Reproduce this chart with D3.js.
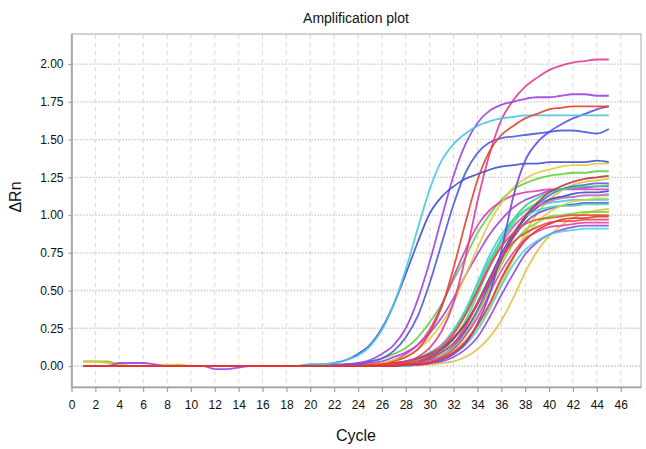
<!DOCTYPE html>
<html>
<head>
<meta charset="utf-8">
<script src="https://cdn.jsdelivr.net/npm/d3@7"></script>
<style>
    html, body { margin: 0; padding: 0; background: #ffffff; }
    svg { display: block; font-family: 'Liberation Sans', Arial, Helvetica, sans-serif; }
</style>
</head>
<body>
<svg id="chart" width="646" height="449"></svg>
<script>
'use strict';

// cycle numbers (x) and the axis tick labels
var cycles = [1,2,3,4,5,6,7,8,9,10, 11,12,13,14,15,16,17,18,19,20, 21,22,23,24,25,26,27,28,29,30, 31,32,33,34,35,36,37,38,39,40, 41,42,43,44,45];
var xTickValues = [0,2,4,6,8,10,12,14,16,18,20,22,24,26,28,30,32,34,36,38,40,42,44,46];
var yTickValues = [0,0.25,0.5,0.75,1,1.25,1.5,1.75,2];

// delta Rn per cycle, one array per well
var wellCyanEarly   = [0,0,0,0,0,0,0,0,0,0, 0,0,0,0,0,0,0,0,0,0.01, 0.01,0.02,0.04,0.07,0.13,0.24,0.41,0.64,0.91,1.17, 1.36,1.47,1.54,1.59,1.62,1.64,1.65,1.66,1.66,1.66, 1.66,1.66,1.66,1.66,1.66];
var wellBlueEarly   = [0,0,0,0,0,0,0,0,0,0, 0,0,0,0,0,0,0,0,0,0.01, 0.01,0.02,0.04,0.08,0.14,0.25,0.41,0.61,0.82,1.01, 1.12,1.19,1.24,1.27,1.30,1.32,1.33,1.34,1.34,1.35, 1.35,1.35,1.35,1.36,1.35];
var wellPurpleHigh  = [0,0,0,0.02,0.02,0.02,0.01,0,0,0, 0,-0.02,-0.02,-0.01,0,0,0,0,0,0, 0,0.01,0.01,0.02,0.04,0.08,0.14,0.25,0.44,0.69, 0.98,1.26,1.47,1.61,1.69,1.73,1.75,1.77,1.78,1.78, 1.79,1.80,1.80,1.79,1.79];
var wellBlueHigh    = [0,0,0,0,0,0,0,0,0,0, 0,0,0,0,0,0,0,0,0,0, 0,0,0.01,0.01,0.03,0.05,0.10,0.19,0.33,0.55, 0.81,1.07,1.28,1.41,1.48,1.51,1.52,1.53,1.54,1.55, 1.56,1.56,1.55,1.54,1.57];
var wellMagentaHigh = [0,0,0,0,0,0,0,0,0,0, 0,0,0,0,0,0,0,0,0,0, 0,0,0,0,0,0.01,0.01,0.03,0.06,0.12, 0.23,0.42,0.72,1.09,1.40,1.63,1.76,1.85,1.91,1.96, 1.99,2.01,2.02,2.03,2.03];
var wellRedHigh     = [0,0,0,0,0,0,0,0,0,0, 0,0,0,0,0,0,0,0,0,0, 0,0,0,0,0.01,0.01,0.03,0.06,0.11,0.22, 0.39,0.65,0.95,1.23,1.42,1.53,1.59,1.64,1.67,1.70, 1.71,1.72,1.72,1.72,1.72];
var wellVioletLate  = [0,0,0,0,0,0,0,0,0,0, 0,0,0,0,0,0,0,0,0,0, 0,0,0,0,0,0,0,0.01,0.01,0.02, 0.04,0.08,0.15,0.28,0.47,0.76,1.12,1.36,1.48,1.55, 1.60,1.64,1.67,1.70,1.72];
var wellYellowHigh  = [0,0,0,0,0,0,0,0.01,0,0, 0,0,0,0,0,0,0,0,0,0, 0,0,0,0.01,0.01,0.02,0.04,0.06,0.11,0.18, 0.28,0.42,0.60,0.78,0.95,1.08,1.18,1.24,1.28,1.30, 1.32,1.33,1.33,1.34,1.34];

var wellGreen1  = [0.03,0.03,0.03,0.01,0,0,0,0,0,0, 0,0,0,0,0,0,0,0,0,0, 0,0,0.01,0.02,0.03,0.05,0.08,0.12,0.19,0.29, 0.41,0.57,0.72,0.88,1.00,1.10,1.17,1.21,1.24,1.26, 1.27,1.28,1.28,1.29,1.29];
var wellPurple1 = [0,0,0,0,0,0,0,0,0,0, 0,0,0,0,0,0,0,0,0,0, 0,0,0.01,0.01,0.02,0.03,0.06,0.09,0.14,0.22, 0.32,0.45,0.60,0.74,0.87,0.97,1.05,1.10,1.13,1.16, 1.17,1.18,1.18,1.19,1.19];
var wellMagenta1 = [0,0,0,0,0,0,0,0,0,0, 0,0,0,0,0,0,0,0,0,0, 0,0,0,0.01,0.01,0.02,0.04,0.08,0.14,0.24, 0.40,0.59,0.77,0.93,1.03,1.09,1.13,1.15,1.16,1.17, 1.17,1.17,1.17,1.17,1.17];
var wellYellow1 = [0.03,0.03,0.02,0.01,0,0,0,0,0.01,0, 0,0,0,0,0,0,0,0,0,0, 0,0,0,0,0,0,0,0.01,0.02,0.03, 0.05,0.09,0.15,0.24,0.37,0.54,0.71,0.88,1.01,1.10, 1.16,1.20,1.22,1.23,1.24];
var wellBrown1  = [0,0,0,0,0,0,0,0,0,0, 0,0,0,0,0,0,0,0,0,0, 0,0,0,0,0,0.01,0.02,0.03,0.05,0.08, 0.12,0.19,0.28,0.41,0.56,0.71,0.86,0.99,1.08,1.15, 1.19,1.22,1.24,1.25,1.26];
var wellCyan1   = [0,0,0,0,0,0,0,0,0,0, 0,0,0,0,0,0,0,0,0,0, 0,0,0,0,0,0.01,0.01,0.02,0.04,0.07, 0.13,0.23,0.37,0.55,0.73,0.87,0.97,1.03,1.06,1.08, 1.09,1.10,1.10,1.10,1.10];
var wellGreen2  = [0,0,0,0,0,0,0,0,0,0, 0,0,0,0,0,0,0,0,0,0, 0,0,0,0,0,0,0.01,0.01,0.03,0.05, 0.10,0.18,0.30,0.47,0.66,0.83,0.95,1.03,1.08,1.10, 1.12,1.12,1.13,1.13,1.13];
var wellBlue1   = [0,0,0,0,0,0,0,0,0,0, 0,0,0,0,0,0,0,0,0,0, 0,0,0,0,0,0,0.01,0.02,0.03,0.05, 0.09,0.15,0.24,0.36,0.52,0.70,0.86,0.98,1.07,1.13, 1.17,1.19,1.20,1.21,1.21];
var wellPurple2 = [0,0,0,0,0,0,0,0,0,0, 0,0,0,0,0,0,0,0,0,0, 0,0,0,0,0,0,0.01,0.01,0.02,0.04, 0.07,0.13,0.23,0.37,0.54,0.71,0.85,0.95,1.01,1.04, 1.06,1.07,1.08,1.08,1.08];
var wellYellow2 = [0,0,0,0,0,0,0,0,0,0, 0,0,0,0,0,0,0,0,0,0, 0,0,0,0,0,0,0,0,0.01,0.01, 0.02,0.03,0.06,0.11,0.19,0.30,0.45,0.62,0.76,0.86, 0.93,0.98,1.01,1.03,1.04];
var wellGreen3  = [0,0,0,0,0,0,0,0,0,0, 0,0,0,0,0,0,0,0,0,0, 0,0,0,0,0,0,0.01,0.01,0.02,0.03, 0.07,0.12,0.21,0.35,0.51,0.67,0.81,0.90,0.95,0.99, 1.00,1.01,1.02,1.02,1.02];
var wellPurple3 = [0,0,0,0,0,0,0,0,0,0, 0,0,0,0,0,0,0,0,0,0, 0,0,0,0,0,0,0,0,0.01,0.02, 0.03,0.06,0.11,0.19,0.32,0.47,0.61,0.74,0.82,0.87, 0.90,0.92,0.93,0.93,0.93];
var wellCyan2   = [0,0,0,0,0,0,0,0,0,0, 0,0,0,0,0,0,0,0,0,0, 0,0,0,0,0,0,0,0,0.01,0.02, 0.04,0.08,0.14,0.24,0.38,0.53,0.67,0.77,0.83,0.87, 0.89,0.90,0.91,0.91,0.91];
var wellGreen4  = [0,0,0,0,0,0,0,0,0,0, 0,0,0,0,0,0,0,0,0,0, 0,0,0,0,0,0.01,0.02,0.03,0.05,0.09, 0.14,0.23,0.36,0.51,0.69,0.84,0.97,1.06,1.11,1.15, 1.17,1.18,1.19,1.19,1.20];
var wellBlue2   = [0,0,0,0,0,0,0,0,0,0, 0,0,0,0,0,0,0,0,0,0, 0,0,0,0,0,0,0.01,0.02,0.04,0.06, 0.11,0.18,0.28,0.42,0.58,0.74,0.88,0.98,1.05,1.10, 1.12,1.14,1.15,1.15,1.16];
var wellTeal1   = [0,0,0,0,0,0,0,0,0,0, 0,0,0,0,0,0,0,0,0,0, 0,0,0,0,0,0.01,0.01,0.02,0.04,0.08, 0.14,0.24,0.37,0.54,0.70,0.83,0.93,0.99,1.03,1.05, 1.06,1.06,1.07,1.07,1.07];
var wellLime1   = [0,0,0,0,0,0,0,0,0,0, 0,0,0,0,0,0,0,0,0,0, 0,0,0,0,0,0,0,0.01,0.02,0.03, 0.06,0.10,0.17,0.27,0.40,0.56,0.72,0.85,0.95,1.02, 1.06,1.09,1.10,1.11,1.11];
var wellPink1   = [0,0,0,0,0,0,0,0,0,0, 0,0,0,0,0,0,0,0,0,0, 0,0,0,0,0,0.01,0.02,0.03,0.05,0.08, 0.14,0.22,0.34,0.49,0.65,0.80,0.92,1.00,1.06,1.09, 1.11,1.12,1.13,1.13,1.14];
var wellMagenta2 = [0,0,0,0,0,0,0,0,0,0, 0,0,0,0,0,0,0,0,0,0, 0,0,0,0,0,0,0,0.01,0.02,0.03, 0.06,0.11,0.20,0.32,0.48,0.63,0.75,0.84,0.89,0.92, 0.93,0.94,0.95,0.95,0.95];
var wellBrown2  = [0,0,0,0,0,0,0,0,0,0, 0,0,0,0,0,0,0,0,0,0, 0,0,0,0,0,0.01,0.01,0.02,0.03,0.07, 0.12,0.21,0.34,0.50,0.66,0.79,0.88,0.94,0.97,0.98, 0.99,1.00,1.00,1.00,1.00];
var wellRed1    = [0,0,0,0,0,0,0,0,0,0, 0,0,0,0,0,0,0,0,0,0, 0,0,0,0,0,0,0,0.01,0.01,0.02, 0.05,0.09,0.16,0.27,0.41,0.58,0.72,0.83,0.90,0.94, 0.97,0.98,0.98,0.99,0.99];
var wellRed2    = [0,0,0,0,0,0,0,0,0,0, 0,0,0,0,0,0,0,0,0,0, 0,0,0,0,0,0,0.01,0.01,0.02,0.05, 0.09,0.15,0.26,0.41,0.56,0.71,0.82,0.88,0.92,0.95, 0.96,0.96,0.97,0.97,0.97];

// drawing order, reds last so the baseline reads red like the original
var wellNames = [
    'green1', 'purple1', 'magenta1', 'yellow1', 'cyan1', 'green2', 'blue1', 'purple2',
    'yellow2', 'green3', 'purple3', 'cyan2', 'green4', 'blue2', 'teal1', 'lime1', 'pink1',
    'magenta2', 'brown1', 'yellowHigh', 'violetLate', 'blueHigh', 'magentaHigh', 'purpleHigh',
    'blueEarly', 'cyanEarly', 'brown2', 'redHigh', 'red2', 'red1'
];

var wellValues = {
    cyanEarly: wellCyanEarly, blueEarly: wellBlueEarly, purpleHigh: wellPurpleHigh,
    blueHigh: wellBlueHigh, magentaHigh: wellMagentaHigh, redHigh: wellRedHigh,
    violetLate: wellVioletLate, yellowHigh: wellYellowHigh,
    green1: wellGreen1, purple1: wellPurple1, magenta1: wellMagenta1, yellow1: wellYellow1,
    brown1: wellBrown1, cyan1: wellCyan1, green2: wellGreen2, blue1: wellBlue1,
    purple2: wellPurple2, yellow2: wellYellow2, green3: wellGreen3, purple3: wellPurple3,
    cyan2: wellCyan2, green4: wellGreen4, blue2: wellBlue2, teal1: wellTeal1,
    lime1: wellLime1, pink1: wellPink1, magenta2: wellMagenta2, brown2: wellBrown2,
    red1: wellRed1, red2: wellRed2
};

var wellColors = {
    cyanEarly: '#46c6e4', blueEarly: '#3f4fd2', purpleHigh: '#9d42e2', blueHigh: '#4a5ae0',
    magentaHigh: '#e23a98', redHigh: '#e2442e', violetLate: '#6e44e4', yellowHigh: '#e2ca42',
    green1: '#62d23e', purple1: '#a644da', magenta1: '#de3cba', yellow1: '#dcc63c',
    brown1: '#b83a44', cyan1: '#40c8e0', green2: '#4ade78', blue1: '#4e62e2',
    purple2: '#7c46e2', yellow2: '#e2c044', green3: '#7cd83a', purple3: '#9248da',
    cyan2: '#4cd2ec', green4: '#3ad286', blue2: '#3e4acc', teal1: '#42d8b4',
    lime1: '#c2d842', pink1: '#e264cc', magenta2: '#e244a6', brown2: '#e25038',
    red1: '#e23232', red2: '#ea4444'
};

(function() {
    var svg = d3.select('#chart');
    var plot = { left: 71.5, right: 641, top: 34, bottom: 387 };

    var x = d3.scaleLinear().domain([0, 47.7]).range([plot.left, plot.right]);
    var y = d3.scaleLinear().domain([-0.139, 2.199]).range([plot.bottom, plot.top]);

    // title
    svg.append('text')
        .attr('x', 356)
        .attr('y', 23)
        .attr('text-anchor', 'middle')
        .style('font-size', '14px')
        .style('fill', '#111')
        .text('Amplification plot');

    // plot frame
    svg.append('rect')
        .attr('x', plot.left)
        .attr('y', plot.top)
        .attr('width', plot.right - plot.left)
        .attr('height', plot.bottom - plot.top)
        .style('fill', '#fff')
        .style('stroke', '#c4c4c4')
        .style('stroke-width', 1.5);

    // grid
    var grid = svg.append('g').attr('class', 'grid');

    grid.selectAll('line.v')
        .data(xTickValues.filter(function(d) { return d > 0; }))
        .enter().append('line')
        .attr('class', 'v')
        .attr('x1', function(d) { return x(d); })
        .attr('x2', function(d) { return x(d); })
        .attr('y1', plot.top + 1)
        .attr('y2', plot.bottom)
        .style('stroke', '#d8d8d8')
        .style('stroke-width', 1)
        .style('stroke-dasharray', '4,4');

    grid.selectAll('line.h')
        .data(yTickValues)
        .enter().append('line')
        .attr('class', 'h')
        .attr('x1', plot.left)
        .attr('x2', plot.right)
        .attr('y1', function(d) { return y(d); })
        .attr('y2', function(d) { return y(d); })
        .style('stroke', '#c8c8c8')
        .style('stroke-width', 1.3)
        .style('stroke-dasharray', '1.5,1.5');

    // amplification curves
    var line = d3.line()
        .x(function(d, i) { return x(cycles[i]); })
        .y(function(d) { return y(d); })
        .curve(d3.curveMonotoneX);

    svg.append('g')
        .attr('class', 'curves')
        .selectAll('path')
        .data(wellNames)
        .enter().append('path')
        .attr('d', function(name) { return line(wellValues[name]); })
        .style('fill', 'none')
        .style('stroke', function(name) { return wellColors[name]; })
        .style('stroke-width', 1.8)
        .style('stroke-opacity', 0.9)
        .style('stroke-linejoin', 'round');

    // axes
    var xAxis = d3.axisBottom(x)
        .tickValues(xTickValues)
        .tickSize(5)
        .tickSizeOuter(0)
        .tickPadding(8)
        .tickFormat(d3.format('d'));

    var yAxis = d3.axisLeft(y)
        .tickValues(yTickValues)
        .tickSize(3)
        .tickSizeOuter(0)
        .tickPadding(5)
        .tickFormat(d3.format('.2f'));

    var gx = svg.append('g')
        .attr('transform', 'translate(0,' + plot.bottom + ')')
        .call(xAxis);

    var gy = svg.append('g')
        .attr('transform', 'translate(' + plot.left + ',0)')
        .call(yAxis);

    [gx, gy].forEach(function(g) {
        g.select('.domain').style('stroke', '#a0a0a0').style('stroke-width', 1.5);
        g.selectAll('.tick line').style('stroke', '#a0a0a0').style('stroke-width', 1.2);
        g.selectAll('.tick text')
            .style('font-size', '12px')
            .style('fill', '#111')
            .style('font-family', "'Liberation Sans', Arial, sans-serif");
    });

    // axis titles
    svg.append('text')
        .attr('x', 356)
        .attr('y', 441)
        .attr('text-anchor', 'middle')
        .style('font-size', '16px')
        .style('fill', '#111')
        .text('Cycle');

    svg.append('text')
        .attr('transform', 'translate(21,197) rotate(-90)')
        .attr('text-anchor', 'middle')
        .style('font-size', '16px')
        .style('fill', '#111')
        .text('ΔRn');
})();
</script>
</body>
</html>
